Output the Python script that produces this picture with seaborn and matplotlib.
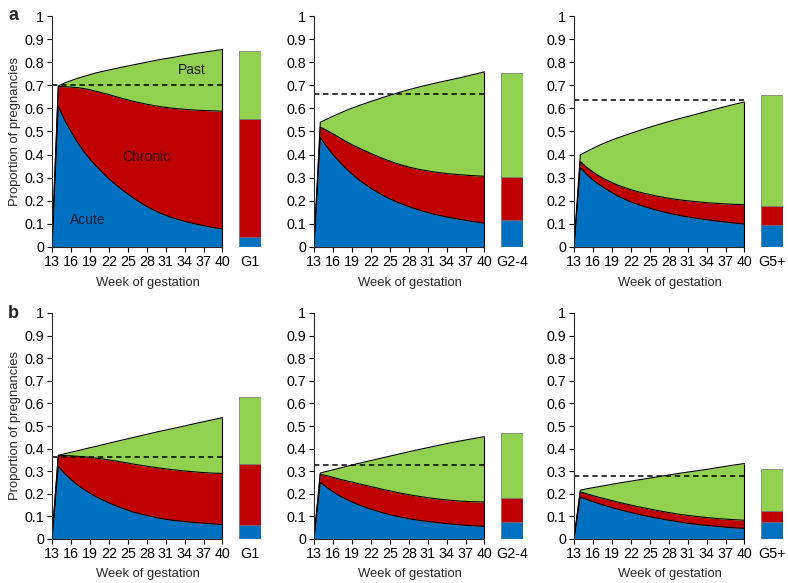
import matplotlib
matplotlib.use("Agg")
import matplotlib.pyplot as plt
import seaborn as sns
import numpy as np

sns.set_style("ticks")
plt.rcParams['font.family'] = ['Liberation Sans', 'DejaVu Sans']

# ---------------- data ----------------
weeks = [13, 14, 15, 16, 17, 18, 19, 20, 22, 24, 26, 28, 30, 32, 34, 36, 38, 40]
week_ticks = [13, 16, 19, 22, 25, 28, 31, 34, 37, 40]
y_ticks = [0, 0.1, 0.2, 0.3, 0.4, 0.5, 0.6, 0.7, 0.8, 0.9, 1.0]
y_tick_labels = ["0", "0.1", "0.2", "0.3", "0.4", "0.5", "0.6", "0.7", "0.8", "0.9", "1"]
groups = ["G1", "G2-4", "G5+"]
row_letters = ["a", "b"]
area_labels = ["Acute", "Chronic", "Past"]

# cumulative boundaries (top of acute, top of chronic, top of past)
a_g1_acute = [0, .61, .55, .50, .455, .415, .38, .35, .295, .25, .21, .175, .148, .127, .111, .098, .087, .078]
a_g1_chronic = [0, .695, .694, .692, .690, .686, .681, .674, .660, .644, .630, .618, .608, .601, .596, .592, .590, .588]
a_g1_total = [0, .697, .710, .720, .730, .738, .746, .754, .766, .778, .789, .800, .811, .820, .830, .839, .847, .855]

a_g24_acute = [0, .475, .435, .40, .37, .342, .316, .293, .254, .222, .196, .175, .157, .142, .13, .12, .111, .103]
a_g24_chronic = [0, .519, .505, .49, .474, .458, .443, .43, .405, .382, .362, .346, .334, .325, .318, .313, .309, .306]
a_g24_total = [0, .54, .553, .566, .578, .59, .601, .611, .63, .648, .665, .681, .695, .708, .72, .732, .745, .758]

a_g5_acute = [0, .345, .315, .29, .27, .252, .235, .22, .195, .176, .16, .146, .135, .126, .118, .111, .105, .099]
a_g5_chronic = [0, .37, .345, .325, .307, .292, .279, .267, .248, .233, .221, .211, .203, .197, .192, .188, .185, .183]
a_g5_total = [0, .399, .413, .427, .44, .452, .463, .473, .492, .51, .527, .543, .558, .572, .587, .601, .615, .628]

b_g1_acute = [0, .322, .29, .263, .24, .22, .203, .187, .16, .137, .118, .104, .092, .083, .077, .072, .068, .064]
b_g1_chronic = [0, .37, .369, .368, .366, .364, .361, .358, .35, .341, .331, .322, .314, .307, .301, .296, .292, .29]
b_g1_total = [0, .37, .377, .384, .39, .397, .404, .41, .424, .437, .45, .463, .476, .488, .5, .513, .525, .537]

b_g24_acute = [0, .251, .229, .209, .192, .177, .164, .152, .132, .115, .101, .09, .081, .074, .068, .063, .059, .056]
b_g24_chronic = [0, .286, .28, .273, .265, .258, .252, .245, .232, .219, .207, .196, .187, .179, .173, .168, .165, .164]
b_g24_total = [0, .292, .299, .306, .313, .32, .327, .334, .347, .36, .373, .386, .398, .41, .422, .433, .443, .453]

b_g5_acute = [0, .186, .175, .165, .156, .147, .139, .131, .117, .104, .093, .083, .074, .066, .06, .055, .05, .047]
b_g5_chronic = [0, .209, .2, .192, .184, .177, .17, .163, .15, .138, .127, .117, .108, .101, .095, .09, .086, .083]
b_g5_total = [0, .216, .222, .227, .232, .237, .242, .247, .256, .265, .274, .283, .292, .3, .308, .317, .326, .334]

# overall bars (cumulative: acute, acute+chronic, total)
a_bar_acute = [0.042, 0.117, 0.094]
a_bar_chronic = [0.556, 0.304, 0.178]
a_bar_total = [0.848, 0.754, 0.659]
b_bar_acute = [0.061, 0.076, 0.075]
b_bar_chronic = [0.334, 0.182, 0.126]
b_bar_total = [0.629, 0.467, 0.308]

# dashed reference levels
a_dashed = [0.700, 0.664, 0.638]
b_dashed = [0.362, 0.328, 0.278]

# ---------------- styles ----------------
c_acute = "#0070C0"
c_chronic = "#C00000"
c_past = "#92D050"
fs_tick = 10.3
fs_label = 9.4

rows = [
    dict(acute=[a_g1_acute, a_g24_acute, a_g5_acute],
         chronic=[a_g1_chronic, a_g24_chronic, a_g5_chronic],
         total=[a_g1_total, a_g24_total, a_g5_total],
         bar_acute=a_bar_acute, bar_chronic=a_bar_chronic, bar_total=a_bar_total,
         dashed=a_dashed),
    dict(acute=[b_g1_acute, b_g24_acute, b_g5_acute],
         chronic=[b_g1_chronic, b_g24_chronic, b_g5_chronic],
         total=[b_g1_total, b_g24_total, b_g5_total],
         bar_acute=b_bar_acute, bar_chronic=b_bar_chronic, bar_total=b_bar_total,
         dashed=b_dashed),
]

fig = plt.figure(figsize=(7.88, 5.83), dpi=100)
W, H = 788, 583
lefts_px = [52, 314, 574]
row_px = [(16, 247), (313, 539)]
width_px = 209
bar_pos = 44.35
bar_w = 3.35
xmax = 46.1

for r, rd in enumerate(rows):
    top_px, bot_px = row_px[r]
    for c in range(3):
        ax = fig.add_axes([lefts_px[c] / W, 1 - bot_px / H, width_px / W, (bot_px - top_px) / H])
        acute = np.array(rd["acute"][c])
        chron = np.array(rd["chronic"][c])
        total = np.array(rd["total"][c])
        ax.fill_between(weeks, 0, acute, color=c_acute, lw=0)
        ax.fill_between(weeks, acute, chron, color=c_chronic, lw=0)
        ax.fill_between(weeks, chron, total, color=c_past, lw=0)
        for y in (acute, chron, total):
            sns.lineplot(x=weeks, y=y, color="black", lw=0.8, ax=ax, sort=False)
        ax.vlines(weeks[-1], 0, total[-1], color="black", lw=0.8)
        # overall bar
        ba, bc, bt = rd["bar_acute"][c], rd["bar_chronic"][c], rd["bar_total"][c]
        ec = "#6f6f6f"
        ax.bar(bar_pos, ba, width=bar_w, color=c_acute, edgecolor=ec, lw=0.5)
        ax.bar(bar_pos, bc - ba, bottom=ba, width=bar_w, color=c_chronic, edgecolor=ec, lw=0.5)
        ax.bar(bar_pos, bt - bc, bottom=bc, width=bar_w, color=c_past, edgecolor=ec, lw=0.5)
        # dashed line
        ax.hlines(rd["dashed"][c], weeks[0], weeks[-1], color="black", lw=1.1,
                  linestyles=(0, (3.5, 2.5)))

        ax.set_xlim(13, xmax)
        ax.set_ylim(0, 1)
        ax.set_xticks(week_ticks + [bar_pos])
        ax.set_xticklabels([str(w) for w in week_ticks] + [groups[c]], fontsize=fs_tick)
        ax.set_yticks(y_ticks)
        ax.set_yticklabels(y_tick_labels, fontsize=fs_tick)
        ax.tick_params(axis="both", length=3.5, width=0.8, pad=2, colors="black")
        ax.get_xticklines()[-2].set_visible(False)
        ax.get_xticklines()[-1].set_visible(False)
        sns.despine(ax=ax)
        ax.spines["bottom"].set_bounds(13, 40)
        ax.spines["left"].set_linewidth(0.8)
        ax.spines["bottom"].set_linewidth(0.8)
        ax.set_xlabel("Week of gestation", fontsize=fs_label)
        ax.xaxis.set_label_coords(0.46, -0.13)
        if c == 0:
            ax.set_ylabel("Proportion of pregnancies", fontsize=fs_label)
            ax.yaxis.set_label_coords(-0.15, 0.5)
            ax.text(-0.21, 1.0, row_letters[r], transform=ax.transAxes, fontsize=13,
                    fontweight="bold", va="center", ha="left")
        ax.set_facecolor("none")
        if r == 0 and c == 0:
            ax.text(35.1, 0.767, area_labels[2], fontsize=10, color="#1a1a1a", ha="center", va="center")
            ax.text(27.9, 0.39, area_labels[1], fontsize=10, color="#2a0000", ha="center", va="center")
            ax.text(18.7, 0.116, area_labels[0], fontsize=10, color="#001a33", ha="center", va="center")

fig.savefig("out.png", dpi=100)
